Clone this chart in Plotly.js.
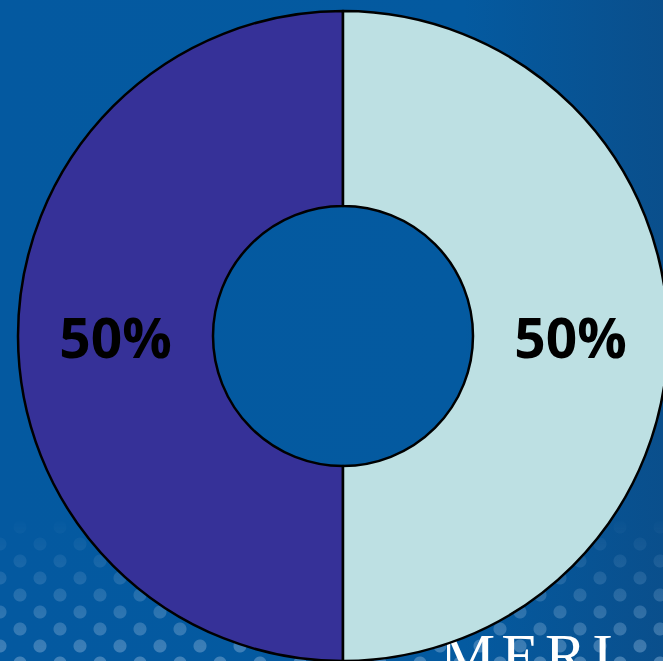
<!DOCTYPE html>
<html>
<head>
<meta charset="utf-8">
<script src="https://cdn.plot.ly/plotly-3.0.1.min.js"></script>
<style>
html,body{margin:0;padding:0;width:663px;height:661px;overflow:hidden;}
body{position:relative;background:linear-gradient(90deg,#0459a0 0%,#045aa0 70%,#0a4f8c 100%);}
#dots{position:absolute;left:0;top:0;width:663px;height:661px;
 background-image:radial-gradient(circle,rgba(125,170,210,0.5) 0 6px,transparent 7px),radial-gradient(circle,rgba(125,170,210,0.5) 0 6px,transparent 7px);
 background-size:40px 34px,40px 34px;background-position:0 0,20px 17px;
 -webkit-mask-image:linear-gradient(180deg,transparent 0%,transparent 78%,rgba(0,0,0,0.55) 90%,#000 100%);
 mask-image:linear-gradient(180deg,transparent 0%,transparent 78%,rgba(0,0,0,0.55) 90%,#000 100%);}
#logo{position:absolute;left:440px;top:624px;font-family:"Liberation Serif",serif;font-size:62px;color:#fff;letter-spacing:6px;line-height:1;}
#chart{position:absolute;left:0;top:0;}
</style>
</head>
<body>
<div id="dots"></div>
<div id="logo">MERI</div>
<div id="chart"></div>
<script>
var labels = ["A", "B"];
var values = [50, 50];
var colors = ["#363198", "#bde0e3"];

var trace = {
  type: "pie",
  labels: labels,
  values: values,
  hole: 0.4,
  sort: false,
  direction: "clockwise",
  rotation: 180,
  marker: {colors: colors, line: {color: "#000000", width: 2.5}},
  texttemplate: "%{percent:.0%}",
  textposition: "inside",
  insidetextorientation: "horizontal",
  textfont: {family: "Open Sans, sans-serif", size: 55, color: "#000000", weight: "bold"},
  hoverinfo: "none",
  showlegend: false
};

var layout = {
  width: 700,
  height: 680,
  margin: {l: 18, r: 32, t: 11, b: 19},
  paper_bgcolor: "rgba(0,0,0,0)",
  plot_bgcolor: "rgba(0,0,0,0)",
  showlegend: false
};

Plotly.newPlot("chart", [trace], layout, {displayModeBar: false, staticPlot: true});
</script>
</body>
</html>
